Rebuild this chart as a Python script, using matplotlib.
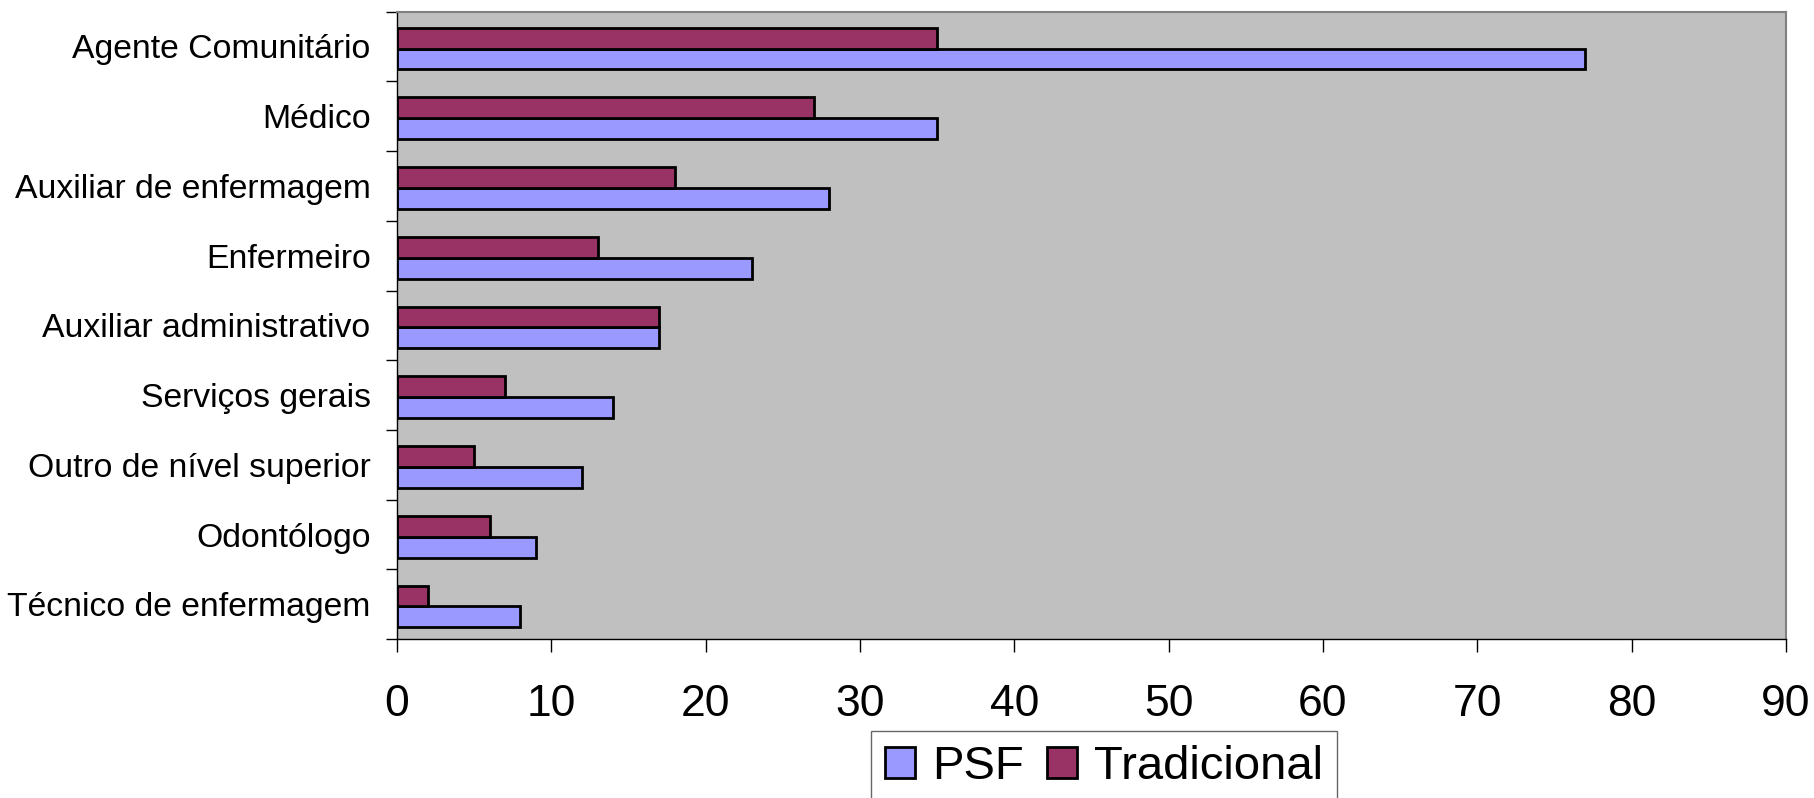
import matplotlib.pyplot as plt
import numpy as np

plt.rcParams['font.family'] = ['Liberation Sans', 'DejaVu Sans']

categorias = ['Agente Comunitário', 'Médico', 'Auxiliar de enfermagem', 'Enfermeiro',
              'Auxiliar administrativo', 'Serviços gerais', 'Outro de nível superior',
              'Odontólogo', 'Técnico de enfermagem']
psf = [77, 35, 28, 23, 17, 14, 12, 9, 8]
tradicional = [35, 27, 18, 13, 17, 7, 5, 6, 2]
xticks = [0, 10, 20, 30, 40, 50, 60, 70, 80, 90]

n = len(categorias)
y = np.arange(n)[::-1]
h = 0.3

fig = plt.figure(figsize=(18.15, 7.98), dpi=100)
ax = fig.add_axes([0.2187, 0.199, 0.984 - 0.2187, 0.9855 - 0.199])
ax.set_facecolor('#C0C0C0')

b1 = ax.barh(y - h / 2 - 0.03, psf, height=h, color='#9999FF', edgecolor='black', linewidth=2, label='PSF')
b2 = ax.barh(y + h / 2 - 0.03, tradicional, height=h, color='#993366', edgecolor='black', linewidth=2, label='Tradicional')

ax.set_xlim(0, 90)
ax.set_ylim(-0.5, n - 0.5)
ax.set_xticks(xticks)
ax.tick_params(axis='x', labelsize=32, length=9.5, width=1, pad=23)

# ticks at category boundaries, labels at the centres
ax.set_yticks(np.arange(n + 1) - 0.5)
ax.set_yticklabels([])
ax.tick_params(axis='y', which='major', length=8, width=1)
ax.set_yticks(y, labels=categorias, minor=True)
ax.tick_params(axis='y', which='minor', length=0, labelsize=24.3, pad=19)

for s in ['top', 'right']:
    ax.spines[s].set_color('#808080')
    ax.spines[s].set_linewidth(1.5)
for s in ['left', 'bottom']:
    ax.spines[s].set_color('black')
    ax.spines[s].set_linewidth(1)

leg = fig.legend(handles=[b1, b2], loc='upper left', bbox_to_anchor=(0.480, 0.084),
                 ncol=2, fontsize=34, frameon=True, fancybox=False,
                 handlelength=0.63, handleheight=0.63, handletextpad=0.36,
                 columnspacing=0.5, borderpad=0.3, borderaxespad=0)
leg.get_frame().set_edgecolor('#404040')
leg.get_frame().set_linewidth(1)

plt.savefig('out.png', dpi=100)
